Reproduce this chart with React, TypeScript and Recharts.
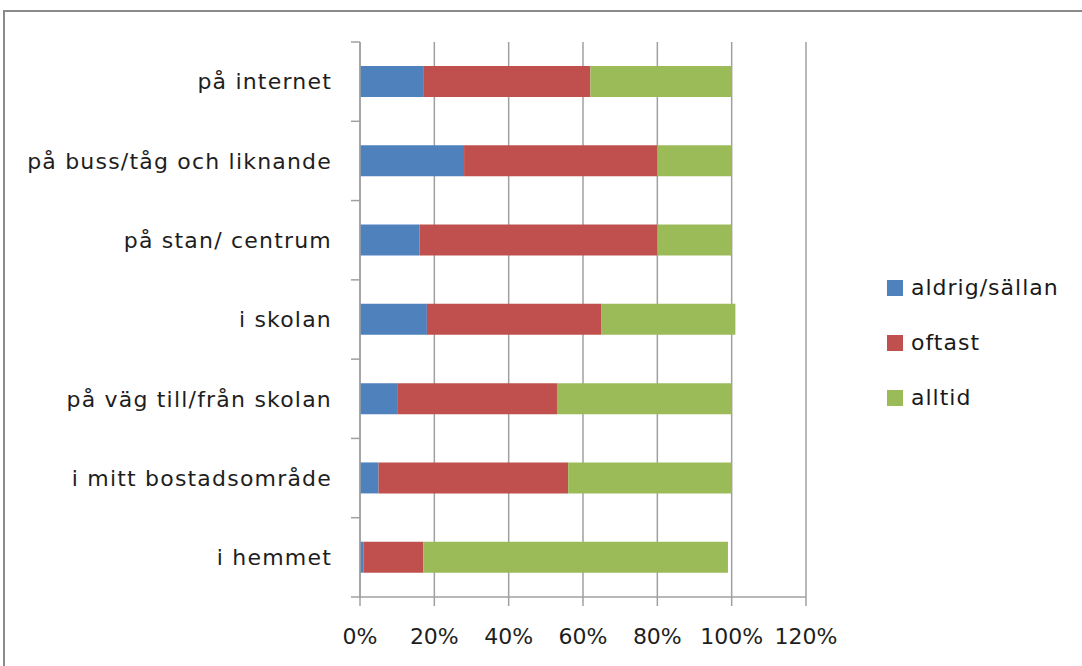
import { BarChart, Bar, XAxis, YAxis, CartesianGrid, Legend } from "recharts";

const categories = [
  "på internet",
  "på buss/tåg och liknande",
  "på stan/ centrum",
  "i skolan",
  "på väg till/från skolan",
  "i mitt bostadsområde",
  "i hemmet",
];
const aldrigSallan = [17, 28, 16, 18, 10, 5, 1];
const oftast = [45, 52, 64, 47, 43, 51, 16];
const alltid = [38, 20, 20, 36, 47, 44, 82];
const xTicks = [0, 20, 40, 60, 80, 100, 120];

const seriesNames = ["aldrig/sällan", "oftast", "alltid"];
const colors = ["#4f81bd", "#c0504d", "#9bbb59"];

const data = categories.map((name, i) => ({
  name,
  a: aldrigSallan[i],
  o: oftast[i],
  l: alltid[i],
}));

const FONT = "'DejaVu Sans', sans-serif";
const AXIS = "#a0a0a0";
const PLOT_H = 555;
const LEGEND_W = 190;

function CategoryTick(props: any) {
  const { x, y, payload, index } = props;
  const band = PLOT_H / categories.length;
  const axisX = x + 28;
  return (
    <g>
      <text
        x={x}
        y={y}
        dy="0.355em"
        textAnchor="end"
        fontFamily={FONT}
        fontSize={22}
        letterSpacing={1.2}
        fill="#1e1e1e"
      >
        {payload.value}
      </text>
      <line x1={axisX - 9} x2={axisX} y1={y - band / 2} y2={y - band / 2} stroke={AXIS} strokeWidth={1.5} />
      {index === categories.length - 1 && (
        <line x1={axisX - 9} x2={axisX} y1={y + band / 2} y2={y + band / 2} stroke={AXIS} strokeWidth={1.5} />
      )}
    </g>
  );
}

function LegendBox() {
  return (
    <div style={{ fontFamily: FONT, fontSize: 22, letterSpacing: 1, color: "#1a1a1a" }}>
      {seriesNames.map((n, i) => (
        <div key={n} style={{ display: "flex", alignItems: "center", height: 55 }}>
          <span style={{ width: 16, height: 16, background: colors[i], display: "inline-block", marginRight: 8 }} />
          <span>{n}</span>
        </div>
      ))}
    </div>
  );
}

export default function App() {
  return (
    <div style={{ position: "absolute", left: 0, top: 0, width: 1082, height: 666, overflow: "hidden", background: "#fff" }}>
      <div
        style={{
          position: "absolute",
          left: 3,
          top: 10,
          width: 1200,
          height: 800,
          border: "2px solid #8a8a8a",
        }}
      />
      <div style={{ position: "absolute", left: 0, top: 0 }}>
        <BarChart
          width={1082}
          height={666}
          data={data}
          layout="vertical"
          margin={{ top: 42, right: 276 - LEGEND_W, bottom: 24, left: 0 }}
        >
          <CartesianGrid horizontal={false} stroke={AXIS} strokeWidth={1.5} />
          <XAxis
            type="number"
            domain={[0, 120]}
            ticks={xTicks}
            tickFormatter={(v: number) => `${v}%`}
            height={45}
            tickSize={9}
            tickMargin={22}
            stroke={AXIS}
            strokeWidth={1.5}
            tick={{ fontFamily: FONT, fontSize: 22, fill: "#1e1e1e" }}
            interval={0}
          />
          <YAxis
            type="category"
            dataKey="name"
            width={360}
            tickSize={9}
            tickMargin={19}
            tickLine={false}
            stroke={AXIS}
            strokeWidth={1.5}
            tick={<CategoryTick />}
            interval={0}
          />
          <Legend
            layout="vertical"
            align="right"
            verticalAlign="top"
            content={<LegendBox />}
            wrapperStyle={{ left: 887, top: 260, width: LEGEND_W }}
          />
          <Bar dataKey="a" name={seriesNames[0]} stackId="s" fill={colors[0]} barSize={31} isAnimationActive={false} />
          <Bar dataKey="o" name={seriesNames[1]} stackId="s" fill={colors[1]} barSize={31} isAnimationActive={false} />
          <Bar dataKey="l" name={seriesNames[2]} stackId="s" fill={colors[2]} barSize={31} isAnimationActive={false} />
        </BarChart>
      </div>
    </div>
  );
}
